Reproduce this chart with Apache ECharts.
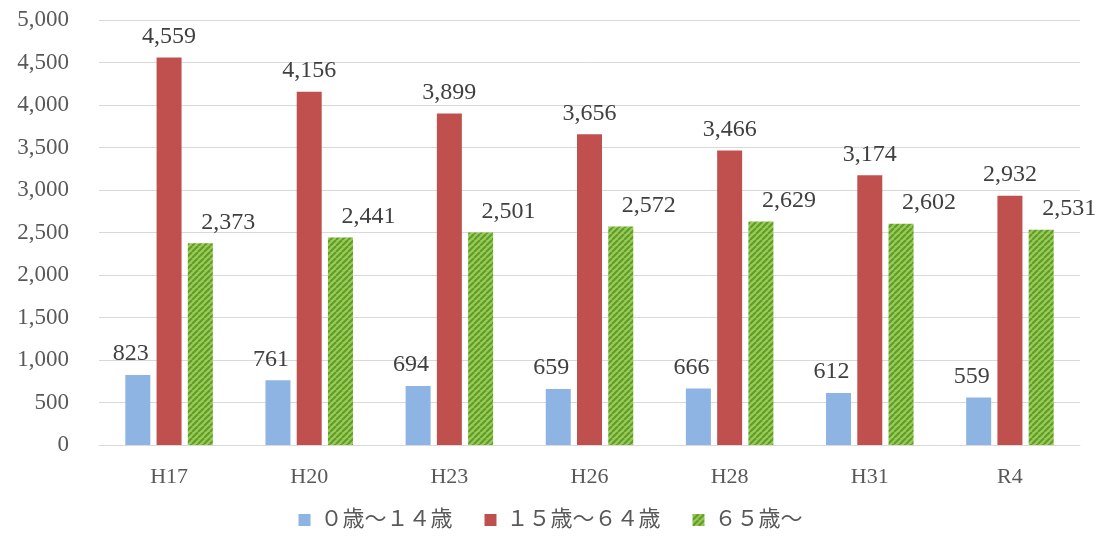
<!DOCTYPE html>
<html>
<head>
<meta charset="utf-8">
<script src="https://cdn.jsdelivr.net/npm/echarts@6/dist/echarts.min.js"></script>
<style>
  html, body { margin: 0; padding: 0; background: #fff; }
  #chart { width: 1101px; height: 540px; }
</style>
</head>
<body>
<div id="chart"></div>
<script>
const categories = ["H17", "H20", "H23", "H26", "H28", "H31", "R4"];
const seriesNames = ["０歳～１４歳", "１５歳～６４歳", "６５歳～"];
const young = [823, 761, 694, 659, 666, 612, 559];
const working = [4559, 4156, 3899, 3656, 3466, 3174, 2932];
const elderly = [2373, 2441, 2501, 2572, 2629, 2602, 2531];

const numFont = "'Liberation Serif', 'DejaVu Serif', serif";
const jpFont = "'Liberation Serif', 'Noto Sans CJK JP', serif";

// diagonal stripe fill for the 65+ bars
function stripePattern() {
  const s = 6;
  const c = document.createElement("canvas");
  c.width = s;
  c.height = s;
  const ctx = c.getContext("2d");
  ctx.fillStyle = "#92d050";
  ctx.fillRect(0, 0, s, s);
  ctx.strokeStyle = "#679530";
  ctx.lineWidth = 2;
  for (const k of [-s, 0, s]) {
    ctx.beginPath();
    ctx.moveTo(k, s);
    ctx.lineTo(k + s, 0);
    ctx.stroke();
  }
  return { image: c, repeat: "repeat" };
}

const fmt = (p) => p.value.toLocaleString("en-US");

function barSeries(name, data, color, dx) {
  return {
    name: name,
    type: "bar",
    data: data,
    barWidth: 25,
    barGap: "25%",
    itemStyle: { color: color },
    label: {
      show: true,
      position: "top",
      distance: 9,
      offset: [dx, 0],
      formatter: fmt,
      fontFamily: numFont,
      fontSize: 24,
      color: "#404040"
    }
  };
}

const chart = echarts.init(document.getElementById("chart"));
chart.setOption({
  animation: false,
  grid: { left: 99, right: 21, top: 20, bottom: 95 },
  legend: {
    bottom: 4,
    left: "center",
    itemWidth: 12,
    itemHeight: 12,
    itemGap: 32,
    icon: "rect",
    textStyle: { fontFamily: jpFont, fontSize: 22, color: "#595959", padding: [0, 0, 0, 5] },
    data: seriesNames
  },
  xAxis: {
    type: "category",
    data: categories,
    axisLine: { lineStyle: { color: "#d9d9d9", width: 1 } },
    axisTick: { show: false },
    axisLabel: { fontFamily: numFont, fontSize: 22, color: "#595959", margin: 21 }
  },
  yAxis: {
    type: "value",
    min: 0,
    max: 5000,
    interval: 500,
    axisLine: { show: false },
    axisTick: { show: false },
    splitLine: { lineStyle: { color: "#d9d9d9", width: 1 } },
    axisLabel: {
      fontFamily: numFont,
      fontSize: 23,
      color: "#595959",
      margin: 30,
      formatter: (v) => v.toLocaleString("en-US")
    }
  },
  series: [
    barSeries(seriesNames[0], young, "#8db4e2", -7),
    barSeries(seriesNames[1], working, "#c0504d", 0),
    barSeries(seriesNames[2], elderly, stripePattern(), 28)
  ]
});
</script>
</body>
</html>
